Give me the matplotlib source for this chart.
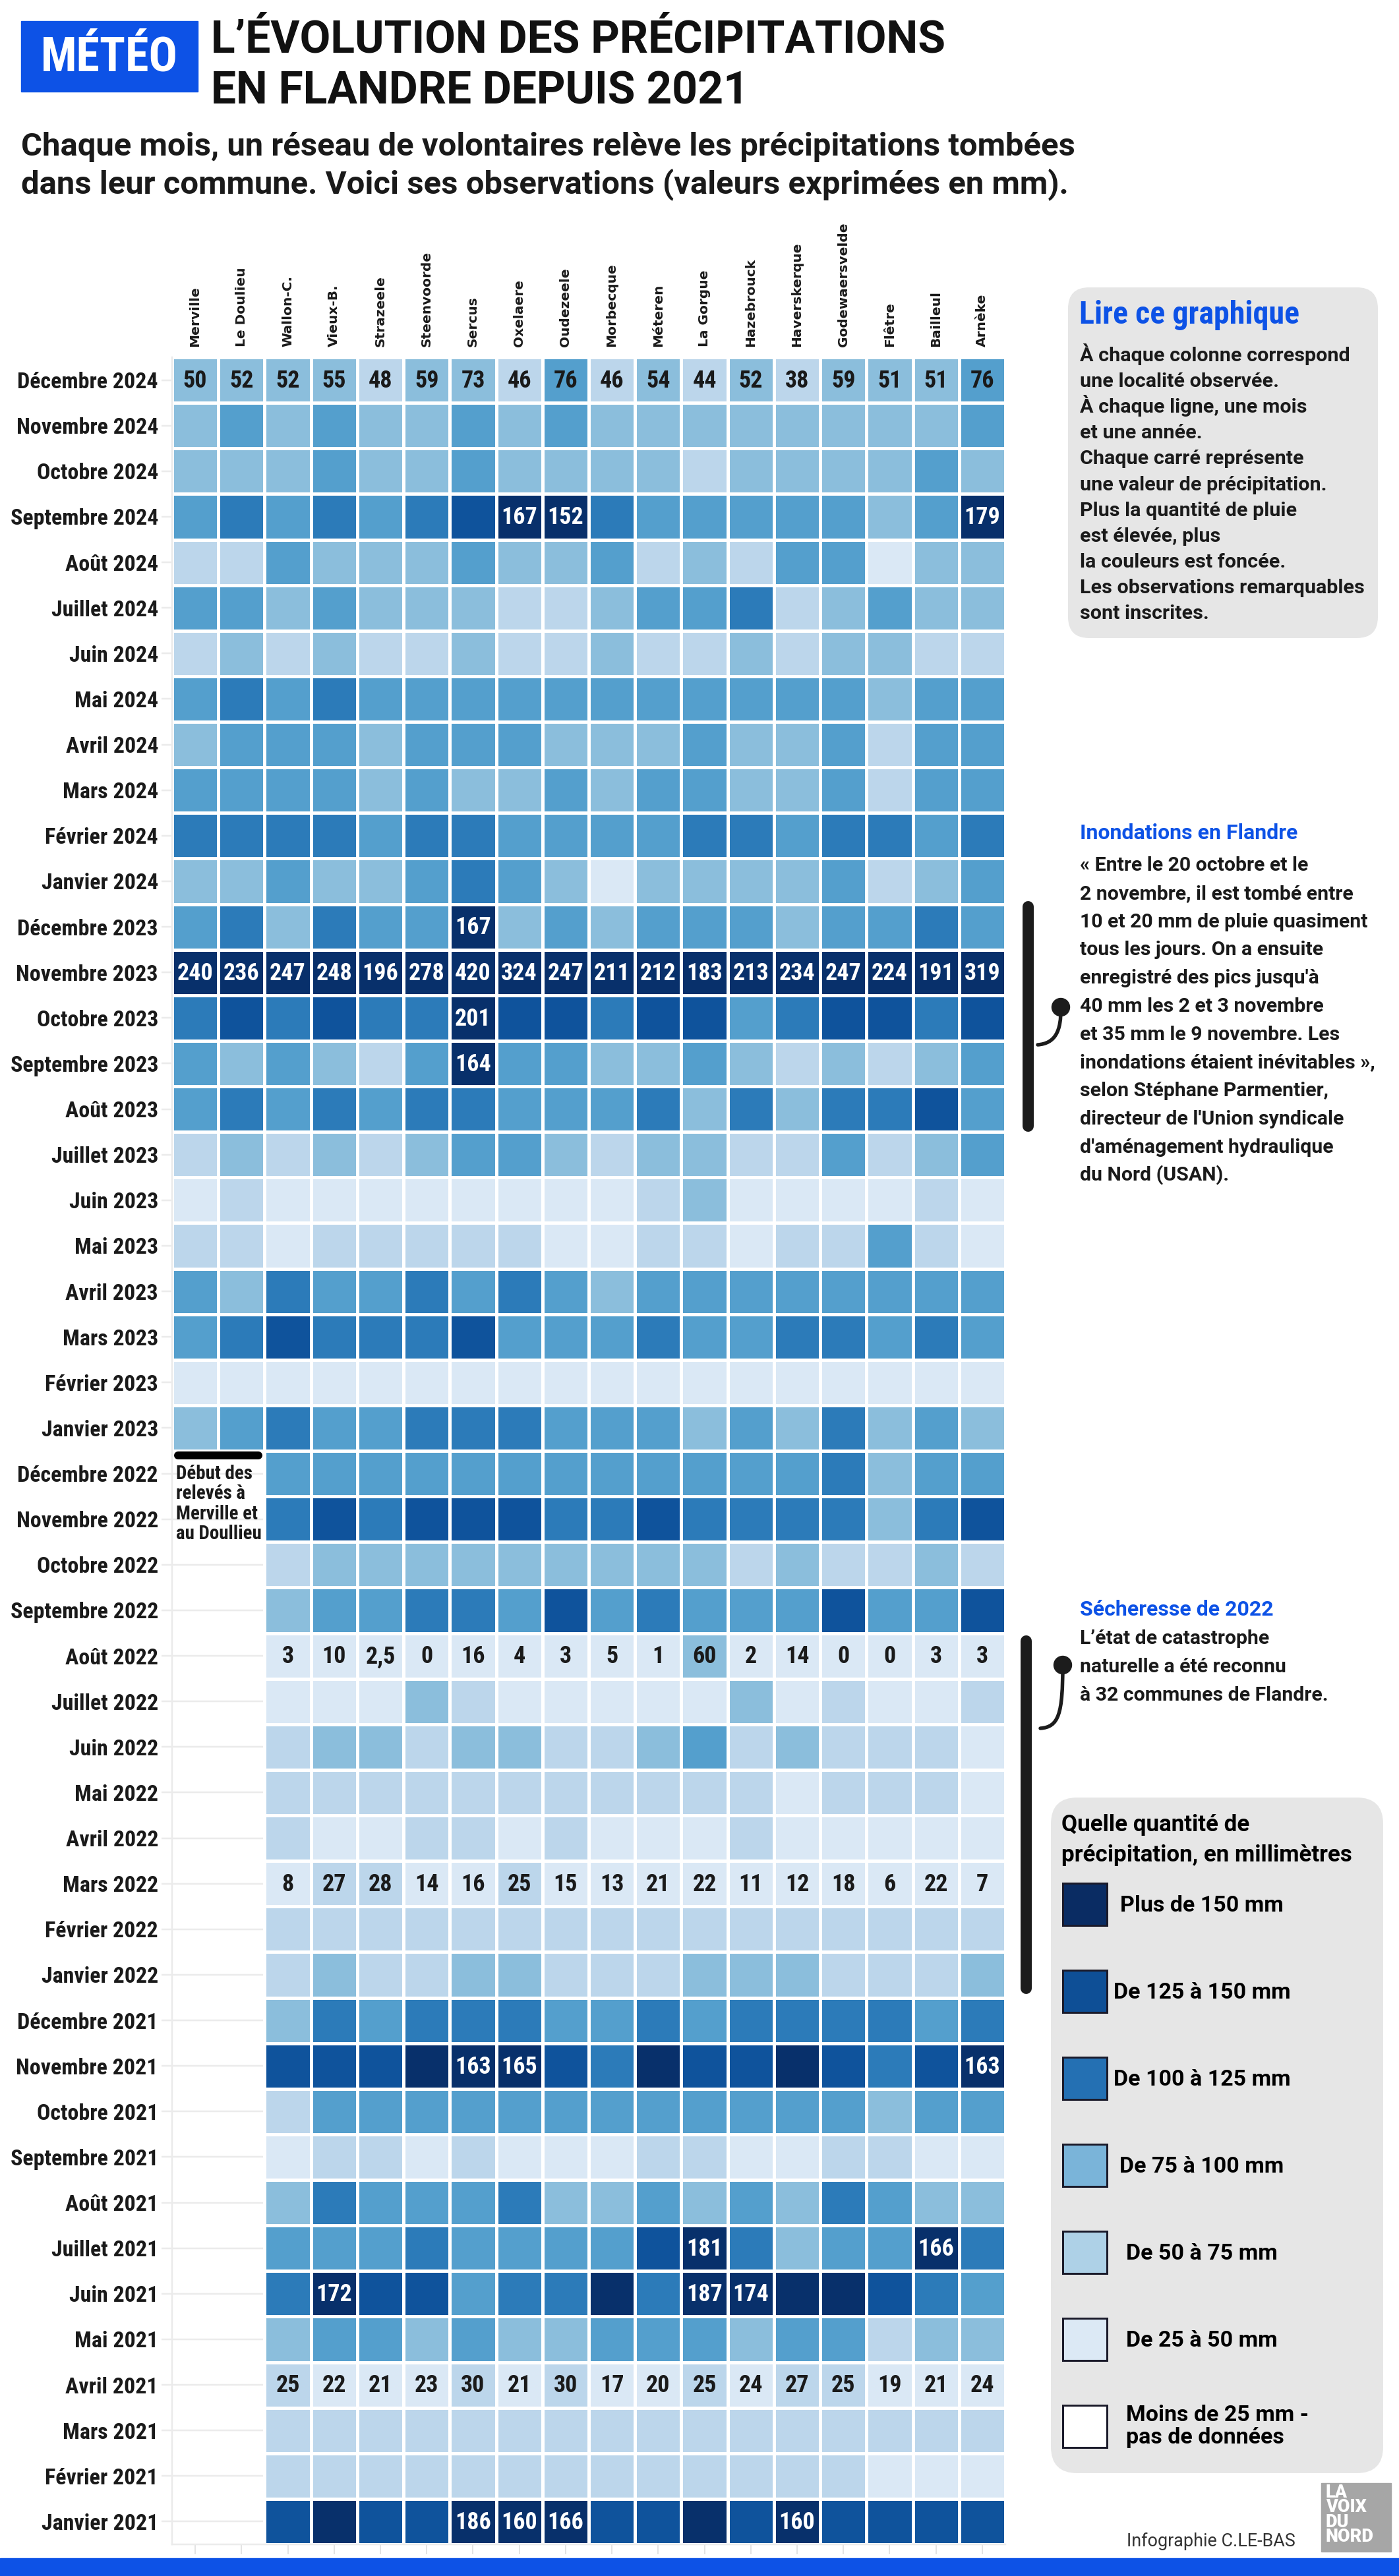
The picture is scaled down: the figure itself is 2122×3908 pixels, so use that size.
import numpy as np
import matplotlib
matplotlib.use('Agg')
import matplotlib.pyplot as plt
from matplotlib import font_manager
from matplotlib.colors import ListedColormap, BoundaryNorm
from matplotlib.patches import FancyBboxPatch, Rectangle, PathPatch, Circle
from matplotlib.path import Path
from matplotlib.lines import Line2D

W, H = 2122, 3908


def px(v):
    # pixels -> points at dpi 100
    return v * 0.72


communes = ['Merville', 'Le Doulieu', 'Wallon-C.', 'Vieux-B.', 'Strazeele', 'Steenvoorde',
            'Sercus', 'Oxelaere', 'Oudezeele', 'Morbecque', 'Méteren', 'La Gorgue',
            'Hazebrouck', 'Haverskerque', 'Godewaersvelde', 'Flêtre', 'Bailleul', 'Arnèke']
month_names = ['Décembre', 'Novembre', 'Octobre', 'Septembre', 'Août', 'Juillet',
               'Juin', 'Mai', 'Avril', 'Mars', 'Février', 'Janvier']
years = [2024, 2023, 2022, 2021]

# colour class of each cell
# 1: <25 mm, 2: 25-50, 3: 50-75, 4: 75-100, 5: 100-125, 6: 125-150, 7: >150, '.': no data
classes_2024 = ['333323324232323334', '343433434333333334', '333433433332333343',
                '454545677544444347', '224333433423244133', '443433322344523433',
                '232322322322323322', '454544444444444344', '344434443334334244',
                '444434334344334244', '555545544445545545', '334334543133334234']
classes_2023 = ['453544734344434454', '777777777777777777', '565655766566456656',
                '434324744334323234', '454545544453535564', '232323443233224234',
                '121111111123111121', '221222221122122421', '435445454344444444',
                '456555644454455454', '111111111111111111', '345445554443435343']
classes_2022 = ['..4444444444445344', '..5656665565555356', '..2333333333232232',
                '..3445546454446446', '..1111111113111111', '..1113211111312112',
                '..2332332234232221', '..2222222222212221', '..2112212111211111',
                '..1221121111111111', '..2222222222222222', '..2322332223332223']
classes_2021 = ['..3545554454555545', '..6667776576676567', '..2444444444444344',
                '..1221211122112211', '..3544453343435433', '..4445444467534475',
                '..5766455757777654', '..3443433444344233', '..2111212112122111',
                '..2222222222222222', '..2222222222222111', '..6766777667676666']

# values written in the cells
values_dec_2024 = ['50', '52', '52', '55', '48', '59', '73', '46', '76', '46', '54', '44',
                   '52', '38', '59', '51', '51', '76']
values_nov_2023 = ['240', '236', '247', '248', '196', '278', '420', '324', '247', '211',
                   '212', '183', '213', '234', '247', '224', '191', '319']
values_aug_2022 = ['3', '10', '2,5', '0', '16', '4', '3', '5', '1', '60', '2', '14',
                   '0', '0', '3', '3']
values_mar_2022 = ['8', '27', '28', '14', '16', '25', '15', '13', '21', '22', '11', '12',
                   '18', '6', '22', '7']
values_apr_2021 = ['25', '22', '21', '23', '30', '21', '30', '17', '20', '25', '24', '27',
                   '25', '19', '21', '24']
single_values = [('Septembre 2024', 'Oxelaere', '167'), ('Septembre 2024', 'Oudezeele', '152'),
                 ('Septembre 2024', 'Arnèke', '179'), ('Décembre 2023', 'Sercus', '167'),
                 ('Octobre 2023', 'Sercus', '201'), ('Septembre 2023', 'Sercus', '164'),
                 ('Novembre 2021', 'Sercus', '163'), ('Novembre 2021', 'Oxelaere', '165'),
                 ('Novembre 2021', 'Arnèke', '163'), ('Juillet 2021', 'La Gorgue', '181'),
                 ('Juillet 2021', 'Bailleul', '166'), ('Juin 2021', 'Vieux-B.', '172'),
                 ('Juin 2021', 'La Gorgue', '187'), ('Juin 2021', 'Hazebrouck', '174'),
                 ('Janvier 2021', 'Sercus', '186'), ('Janvier 2021', 'Oxelaere', '160'),
                 ('Janvier 2021', 'Oudezeele', '166'), ('Janvier 2021', 'Haverskerque', '160')]

cell_colors = ['#dae8f5', '#bcd6eb', '#8bbedc', '#549fcd', '#2c7bb9', '#0f539c', '#08306b']

legend_labels = ['Plus de 150 mm', 'De 125 à 150 mm', 'De 100 à 125 mm', 'De 75 à 100 mm',
                 'De 50 à 75 mm', 'De 25 à 50 mm', 'Moins de 25 mm -\npas de données']
legend_colors = ['#0a2c63', '#0e4f96', '#2470b3', '#7ab4d9', '#aed1e7', '#dce9f5', '#ffffff']

months = ['%s %d' % (m, y) for y in years for m in month_names]
rows = classes_2024 + classes_2023 + classes_2022 + classes_2021
grid = np.array([[0 if c == '.' else int(c) for c in r] for r in rows])
grid = np.ma.masked_equal(grid, 0)

BLUE = '#0d52e6'
INK = '#1a1a1a'
BOLD = dict(family='Roboto', weight='bold')

# condensed face for the labels if one is installed
installed = {f.name for f in font_manager.fontManager.ttflist}
if 'Roboto Condensed' in installed:
    COND = dict(family='Roboto Condensed', weight='bold')
    month_px, num_px, note_px, lire_px = 34, 36, 29, 48
else:
    COND = BOLD
    month_px, num_px, note_px, lire_px = 29.5, 32, 25, 46

fig = plt.figure(figsize=(W / 100, H / 100), dpi=100)
fig.patch.set_facecolor('white')

# ---- heatmap ----
ax = fig.add_axes([261 / W, 1 - 3860 / H, (1525 - 261) / W, (3860 - 542) / H])
cmap = ListedColormap(cell_colors)
cmap.set_bad((1, 1, 1, 0))
norm = BoundaryNorm(np.arange(0.5, 8.5), cmap.N)
mesh = ax.pcolormesh(np.arange(19), np.arange(49), grid, cmap=cmap, norm=norm,
                     edgecolors='white', linewidth=px(4.5))
ec = np.where(np.ma.getmaskarray(grid).ravel()[:, None], (1, 1, 1, 0), (1, 1, 1, 1))
mesh.set_edgecolor(ec)
ax.set_xlim(0, 18)
ax.set_ylim(48, 0)

ax.set_yticks(np.arange(48) + 0.5, months, fontsize=px(month_px), color=INK, **COND)
ax.tick_params(axis='y', length=px(16), width=px(2.5), color='#ebebeb', pad=px(5))
ax.set_xticks(np.arange(18) + 0.5, communes, rotation=90, fontsize=14.5,
              family='DejaVu Sans', weight='bold', color=INK)
ax.tick_params(axis='x', bottom=True, labelbottom=False, top=False, labeltop=True,
               length=px(15), width=px(2), color='#e3e3e3', pad=px(1))
ax.yaxis.grid(True, color='#ebebeb', lw=px(2.5))
ax.set_axisbelow(True)
for s in ['top', 'right']:
    ax.spines[s].set_visible(False)
for s in ['left', 'bottom']:
    ax.spines[s].set_color('#ebebeb')
    ax.spines[s].set_linewidth(px(2.5))


def put(month, col, txt):
    i = months.index(month)
    c = grid[i, col]
    color = 'white' if c >= 6 else INK
    ax.text(col + 0.5, i + 0.52, txt, ha='center', va='center', fontsize=px(num_px),
            color=color, **COND)


for j, v in enumerate(values_dec_2024):
    put('Décembre 2024', j, v)
for j, v in enumerate(values_nov_2023):
    put('Novembre 2023', j, v)
for j, v in enumerate(values_aug_2022):
    put('Août 2022', j + 2, v)
for j, v in enumerate(values_mar_2022):
    put('Mars 2022', j + 2, v)
for j, v in enumerate(values_apr_2021):
    put('Avril 2021', j + 2, v)
for m, c, v in single_values:
    put(m, communes.index(c), v)

# ---- overlay in pixel coordinates ----
ov = fig.add_axes([0, 0, 1, 1], zorder=5)
ov.set_xlim(0, W)
ov.set_ylim(H, 0)
ov.axis('off')
ov.patch.set_alpha(0)

# header
ov.add_patch(Rectangle((32, 32), 268, 107, color=BLUE))
ov.text(166, 88, 'MÉTÉO', ha='center', va='center', color='white', fontsize=px(72), **COND)
ov.text(320, 79, 'L’ÉVOLUTION DES PRÉCIPITATIONS', va='baseline', color='#111111',
        fontsize=px(67.8), **BOLD)
ov.text(320, 157, 'EN FLANDRE DEPUIS 2021', va='baseline', color='#111111',
        fontsize=px(67.8), **BOLD)
ov.text(32, 236, 'Chaque mois, un réseau de volontaires relève les précipitations tombées',
        va='baseline', color=INK, fontsize=px(49), **BOLD)
ov.text(32, 293, 'dans leur commune. Voici ses observations (valeurs exprimées en mm).',
        va='baseline', color=INK, fontsize=px(49), **BOLD)

# start of records note
ov.add_line(Line2D([270, 392], [2208, 2208], color='black', lw=px(12), solid_capstyle='round'))
for k, line in enumerate(['Début des', 'relevés à', 'Merville et', 'au Doullieu']):
    ov.text(267, 2244 + 30.3 * k, line, va='baseline', color=INK, fontsize=px(note_px), **COND)

# reading box
ov.add_patch(FancyBboxPatch((1620, 436), 470, 532, boxstyle='round,pad=0,rounding_size=32',
                            fc='#e6e6e6', ec='none'))
ov.text(1637, 491, 'Lire ce graphique', va='baseline', color=BLUE, fontsize=px(lire_px), **COND)
lire = ['À chaque colonne correspond', 'une localité observée.', 'À chaque ligne, une mois',
        'et une année.', 'Chaque carré représente', 'une valeur de précipitation.',
        'Plus la quantité de pluie', 'est élevée, plus', 'la couleurs est foncée.',
        'Les observations remarquables', 'sont inscrites.']
for k, line in enumerate(lire):
    ov.text(1638, 548 + 39.1 * k, line, va='baseline', color=INK, fontsize=px(30.5), **BOLD)


def bracket(x, y0, y1, dot, curve):
    ov.add_line(Line2D([x, x], [y0 + 8, y1 - 8], color='#1c1c1c', lw=px(17),
                       solid_capstyle='round'))
    ov.add_patch(Circle(dot, 13.5, color='#1c1c1c'))
    codes = [Path.MOVETO] + [Path.CURVE4] * 3
    ov.add_patch(PathPatch(Path(curve, codes), fill=False, ec='#1c1c1c', lw=px(5.5),
                           capstyle='round'))


# floods note
bracket(1559, 1367, 1716, (1609, 1528),
        [(1609, 1528), (1610, 1565), (1600, 1583), (1574, 1585)])
ov.text(1638, 1273, 'Inondations en Flandre', va='baseline', color=BLUE, fontsize=px(32),
        **BOLD)
flood = ['« Entre le 20 octobre et le', '2 novembre, il est tombé entre',
         '10 et 20 mm de pluie quasiment', 'tous les jours. On a ensuite',
         "enregistré des pics jusqu'à", '40 mm les 2 et 3 novembre',
         'et 35 mm le 9 novembre. Les', 'inondations étaient inévitables »,',
         'selon Stéphane Parmentier,', "directeur de l'Union syndicale",
         "d'aménagement hydraulique", 'du Nord (USAN).']
for k, line in enumerate(flood):
    ov.text(1638, 1321 + 42.8 * k, line, va='baseline', color=INK, fontsize=px(30.3), **BOLD)

# drought note
bracket(1556, 2481, 3024, (1612, 2526),
        [(1612, 2526), (1612, 2600), (1606, 2620), (1578, 2622)])
ov.text(1638, 2451, 'Sécheresse de 2022', va='baseline', color=BLUE, fontsize=px(32), **BOLD)
drought = ['L’état de catastrophe', 'naturelle a été reconnu', 'à 32 communes de Flandre.']
for k, line in enumerate(drought):
    ov.text(1638, 2494 + 43 * k, line, va='baseline', color=INK, fontsize=px(30.3), **BOLD)

# legend
ov.add_patch(FancyBboxPatch((1594, 2727), 504, 1025, boxstyle='round,pad=0,rounding_size=40',
                            fc='#e6e6e6', ec='none'))
ov.text(1610, 2778, 'Quelle quantité de', va='baseline', color='black', fontsize=px(35),
        **BOLD)
ov.text(1610, 2824, 'précipitation, en millimètres', va='baseline', color='black',
        fontsize=px(35), **BOLD)
for k, (lab, col) in enumerate(zip(legend_labels, legend_colors)):
    yc = 2889 + 132 * k
    ov.add_patch(Rectangle((1612, yc - 32), 67, 64, fc=col, ec='#1a1a2a', lw=px(3)))
    if '\n' in lab:
        ov.text(1708, yc, lab, ha='left', va='center', color='black', fontsize=px(34),
                linespacing=1.05, **BOLD)
    else:
        ov.text(1823, yc + 2, lab, ha='center', va='center', color='black', fontsize=px(34),
                **BOLD)

# footer
ov.text(1709, 3863, 'Infographie C.LE-BAS', va='baseline', color='#333333',
        fontsize=px(27), family='Roboto')
ov.add_patch(Rectangle((2004, 3767), 106, 104, color='#a6a6a6'))
ov.text(2011, 3768, 'LA\nVOIX\nDU\nNORD', ha='left', va='top', color='white',
        fontsize=px(27), linespacing=0.78, family='Roboto', weight='heavy')
ov.add_patch(Rectangle((0, 3881), W, 27, color=BLUE))

fig.savefig('out.png', dpi=100)
